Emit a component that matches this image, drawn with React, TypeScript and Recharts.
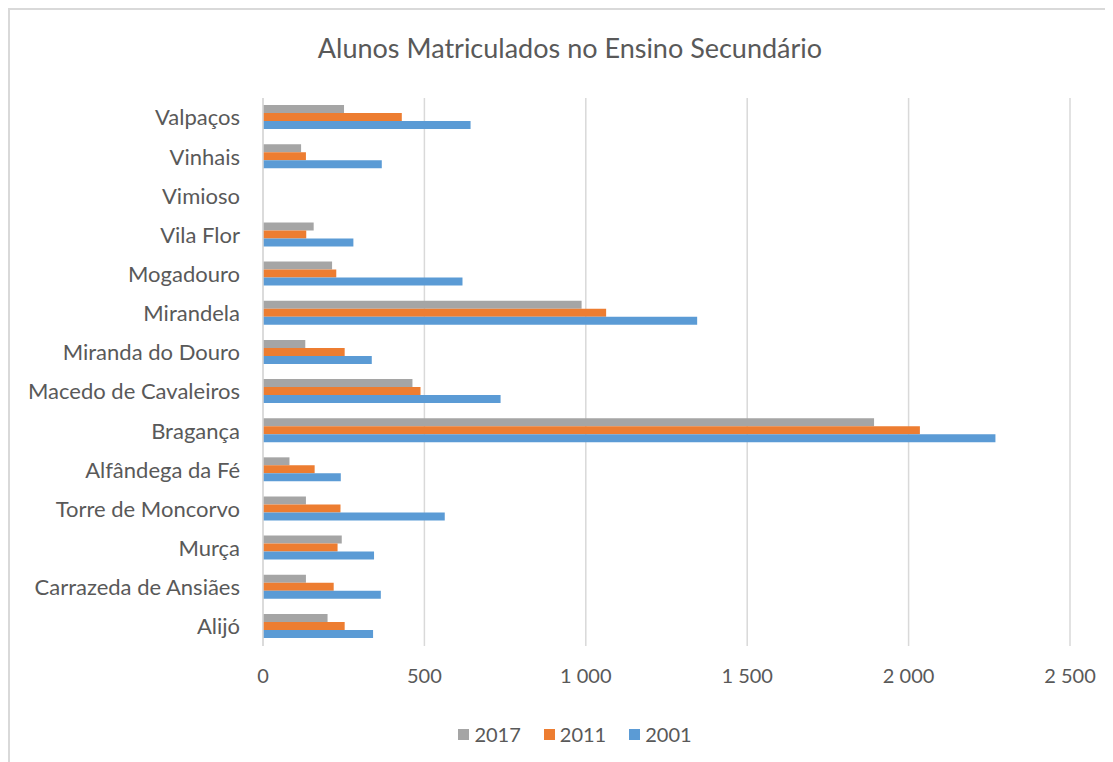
import React from 'react';
import { BarChart, Bar, XAxis, YAxis, CartesianGrid, Legend } from 'recharts';

// municipalities, top to bottom as shown
const municipios = [
  'Valpaços',
  'Vinhais',
  'Vimioso',
  'Vila Flor',
  'Mogadouro',
  'Mirandela',
  'Miranda do Douro',
  'Macedo de Cavaleiros',
  'Bragança',
  'Alfândega da Fé',
  'Torre de Moncorvo',
  'Murça',
  'Carrazeda de Ansiães',
  'Alijó'
];

const alunos2017 = [251, 118, 0, 157, 214, 987, 131, 463, 1893, 82, 133, 244, 133, 200];
const alunos2011 = [430, 133, 0, 134, 227, 1063, 253, 488, 2035, 160, 240, 231, 219, 253];
const alunos2001 = [643, 368, 0, 280, 618, 1345, 337, 736, 2269, 241, 563, 344, 365, 341];

const xTicks = [0, 500, 1000, 1500, 2000, 2500];
const legendOrder = ['2017', '2011', '2001'];

const data = municipios.map((nome, i) => ({
  nome,
  a2017: alunos2017[i],
  a2011: alunos2011[i],
  a2001: alunos2001[i]
}));

const FONT = 'Lato, "Open Sans", sans-serif';
const TEXT = '#595959';
const GRID = '#d9d9d9';

const fmt = (v: number) => (v >= 1000 ? `${Math.floor(v / 1000)} ${String(v % 1000).padStart(3, '0')}` : String(v));

const renderLegend = (props: any) => {
  const items = [...(props.payload || [])].sort(
    (a: any, b: any) => legendOrder.indexOf(String(a.value)) - legendOrder.indexOf(String(b.value))
  );
  return (
    <div style={{ display: 'flex', justifyContent: 'center', gap: 23, fontFamily: FONT }}>
      {items.map((it: any) => (
        <div key={it.value} style={{ display: 'flex', alignItems: 'center' }}>
          <span style={{ display: 'inline-block', width: 11, height: 11, background: it.color, marginRight: 5 }} />
          <span style={{ color: TEXT, fontSize: 20 }}>{it.value}</span>
        </div>
      ))}
    </div>
  );
};

const App: React.FC = () => {
  return (
    <div
      style={{
        position: 'relative',
        width: 1105,
        height: 754,
        borderTop: `2px solid ${GRID}`,
        borderLeft: `2px solid ${GRID}`,
        boxSizing: 'border-box',
        background: '#fff',
        fontFamily: FONT,
        overflow: 'hidden'
      }}
    >
      <div
        style={{
          position: 'absolute',
          top: 21,
          left: 0,
          width: 1120,
          textAlign: 'center',
          fontSize: 27,
          color: TEXT
        }}
      >
        Alunos Matriculados no Ensino Secundário
      </div>
      <BarChart
        width={1103}
        height={752}
        data={data}
        layout="vertical"
        margin={{ top: 88, right: 43, left: 0, bottom: 16 }}
        barCategoryGap="18%"
        barGap={0}
      >
        <CartesianGrid horizontal={false} stroke={GRID} strokeWidth={1.5} />
        <XAxis
          type="number"
          domain={[0, 2500]}
          ticks={xTicks}
          tickFormatter={fmt}
          axisLine={false}
          tickLine={false}
          tickMargin={17}
          height={76}
          tick={{ fontSize: 20, fill: TEXT, fontFamily: FONT }}
        />
        <YAxis
          type="category"
          dataKey="nome"
          width={253}
          axisLine={{ stroke: GRID, strokeWidth: 1.5 }}
          tickLine={false}
          tickMargin={17}
          interval={0}
          tick={{ fontSize: 22, fill: TEXT, fontFamily: FONT }}
        />
        <Legend
          verticalAlign="bottom"
          content={renderLegend}
          wrapperStyle={{ left: 0, width: 1130 }}
        />
        <Bar dataKey="a2017" name="2017" fill="#a5a5a5" isAnimationActive={false} />
        <Bar dataKey="a2011" name="2011" fill="#ed7d31" isAnimationActive={false} />
        <Bar dataKey="a2001" name="2001" fill="#5b9bd5" isAnimationActive={false} />
      </BarChart>
    </div>
  );
};

export default App;
